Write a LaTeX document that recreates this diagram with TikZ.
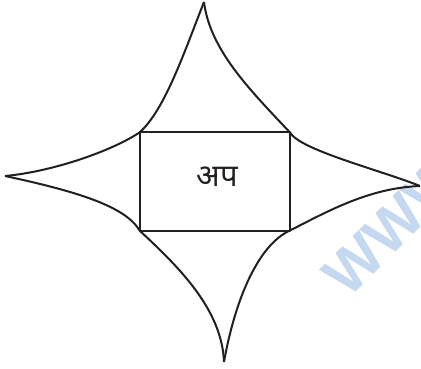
\documentclass[tikz,border=0pt]{standalone}
\usepackage{fontspec}
\newfontfamily\devfont[Script=Devanagari]{Noto Sans}
\setsansfont{Liberation Sans}
\definecolor{wmblue}{RGB}{196,216,240}
\definecolor{ink}{RGB}{35,31,32}
\begin{document}
\begin{tikzpicture}[x=1pt,y=-1pt,
  edge/.style={line width=2pt,draw=ink,line join=round},
  label/.style={font=\devfont\fontsize{31}{36}\selectfont,text=ink},
  wmark/.style={font=\sffamily\bfseries\fontsize{60}{66}\selectfont,text=wmblue,inner sep=0pt}]
\useasboundingbox (0,0) rectangle (421,369);
\node[wmark,rotate=45,anchor=base west] (wm) at (348,300) {WWW};
\coordinate (tl) at (139.5,132.5);
\coordinate (tr) at (290,132.5);
\coordinate (bl) at (139.5,230.5);
\coordinate (br) at (290,230.5);
\coordinate (top) at (204,2);
\coordinate (left) at (5,176);
\coordinate (right) at (420,186);
\coordinate (bot) at (224,362);
\draw[edge] (tl) rectangle (br);
\node[label] (t) at (217,177) {अप};
\draw[edge] (tl) .. controls (165,110) and (185,50) .. (top);
\draw[edge] (top) .. controls (210,50) and (250,90) .. (tr);
\draw[edge] (left) .. controls (50,172) and (110,152) .. (tl);
\draw[edge] (left) .. controls (70,190) and (125,205) .. (bl);
\draw[edge] (bl) .. controls (180,268) and (222,310) .. (bot);
\draw[edge] (bot) .. controls (235,300) and (258,245) .. (br);
\draw[edge] (tr) .. controls (300,150) and (380,170) .. (right);
\draw[edge] (br) .. controls (330,210) and (370,188) .. (right);
\end{tikzpicture}
\end{document}
